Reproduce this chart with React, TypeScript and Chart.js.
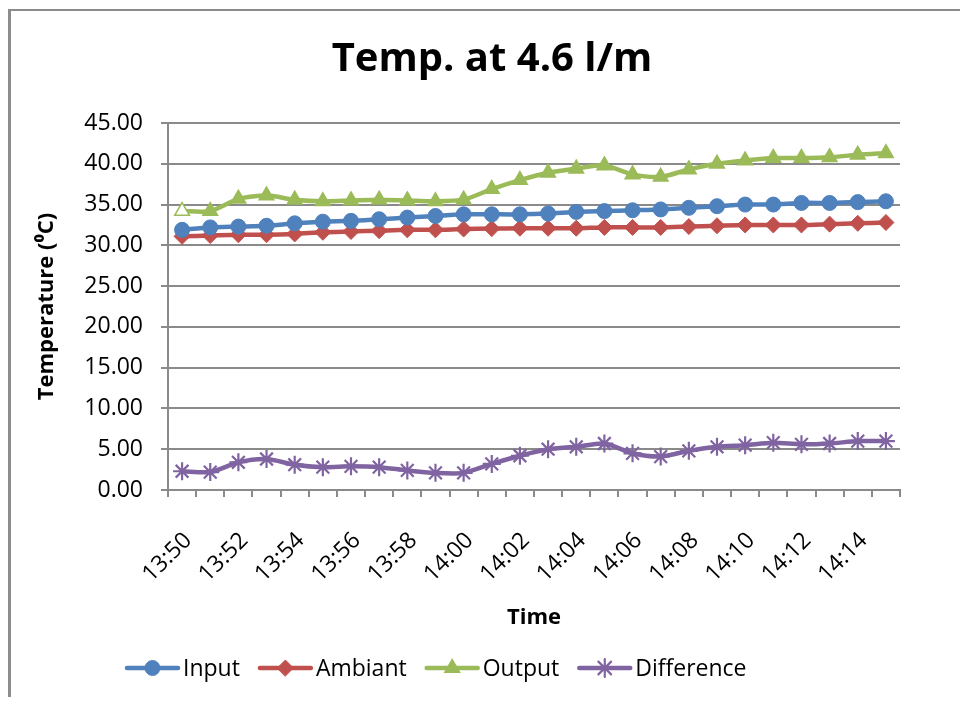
import React, { useEffect, useRef } from 'react';
import { Chart, registerables } from 'chart.js';
import { drawPoint } from 'chart.js/helpers';

Chart.register(...registerables);

const TITLE = 'Temp. at 4.6 l/m';
const Y_TITLE = 'Temperature (⁰C)';
const X_TITLE = 'Time';

const TIMES = [
  '13:50', '13:51', '13:52', '13:53', '13:54', '13:55', '13:56', '13:57', '13:58', '13:59',
  '14:00', '14:01', '14:02', '14:03', '14:04', '14:05', '14:06', '14:07', '14:08', '14:09',
  '14:10', '14:11', '14:12', '14:13', '14:14', '14:15',
];

const INPUT = [31.9, 32.2, 32.3, 32.4, 32.7, 32.9, 33.0, 33.2, 33.4, 33.6, 33.8, 33.8, 33.8, 33.9, 34.1, 34.2, 34.3, 34.4, 34.6, 34.8, 35.0, 35.0, 35.2, 35.2, 35.3, 35.4];
const AMBIANT = [31.1, 31.2, 31.3, 31.3, 31.4, 31.6, 31.7, 31.8, 31.9, 31.9, 32.0, 32.05, 32.1, 32.1, 32.1, 32.2, 32.2, 32.2, 32.3, 32.4, 32.5, 32.5, 32.5, 32.6, 32.7, 32.8];
const OUTPUT = [34.2, 34.2, 35.7, 36.1, 35.6, 35.4, 35.5, 35.6, 35.5, 35.4, 35.6, 36.9, 38.0, 38.9, 39.4, 39.8, 38.7, 38.4, 39.3, 40.0, 40.4, 40.7, 40.7, 40.8, 41.1, 41.3];
const DIFFERENCE = [2.3, 2.2, 3.4, 3.8, 3.1, 2.8, 2.9, 2.8, 2.4, 2.1, 2.1, 3.2, 4.2, 5.0, 5.3, 5.7, 4.5, 4.1, 4.8, 5.3, 5.5, 5.8, 5.6, 5.7, 6.0, 6.0];

const Y_MIN = 0;
const Y_MAX = 45;
const Y_STEP = 5;

const FONT = "'Open Sans', 'Liberation Sans', sans-serif";
const GRID = '#8a8a8a';

const decor = {
  id: 'decor',
  beforeDraw(chart: any) {
    const ctx = chart.ctx;
    ctx.save();
    ctx.fillStyle = '#ffffff';
    ctx.fillRect(0, 0, chart.width, chart.height);
    ctx.fillStyle = '#8c8c8c';
    ctx.fillRect(8, 9, chart.width - 8, 2);
    ctx.fillRect(8, 9, 3, 688);
    ctx.restore();
  },
  afterDraw(chart: any) {
    const ctx = chart.ctx;
    ctx.save();
    // title
    ctx.fillStyle = '#000';
    ctx.font = `bold 40px ${FONT}`;
    ctx.textAlign = 'center';
    ctx.textBaseline = 'middle';
    ctx.fillText(TITLE, 492, 60);
    // legend
    ctx.font = `23px ${FONT}`;
    ctx.textAlign = 'left';
    let x = 125;
    const y = 668;
    chart.data.datasets.forEach((ds: any) => {
      ctx.strokeStyle = ds.borderColor;
      ctx.lineWidth = 4.5;
      ctx.lineCap = 'round';
      ctx.beginPath();
      ctx.moveTo(x + 2, y);
      ctx.lineTo(x + 53, y);
      ctx.stroke();
      ctx.fillStyle = ds.borderColor;
      ctx.strokeStyle = ds.borderColor;
      ctx.lineWidth = ds.pointBorderWidth || 1;
      drawPoint(ctx, { pointStyle: ds.pointStyle, radius: ds.pointRadius, borderWidth: ds.pointBorderWidth || 1, rotation: 0 }, x + 27.5, y);
      ctx.fillStyle = '#000';
      ctx.fillText(ds.label, x + 58, y + 1);
      x += 58 + ctx.measureText(ds.label).width + 18;
    });
    ctx.restore();
  },
};

export default function App() {
  const ref = useRef<HTMLCanvasElement | null>(null);

  useEffect(() => {
    if (!ref.current) return;
    const outputFill = OUTPUT.map((_, i) => (i === 0 ? '#ffffff' : '#9BBB59'));
    const chart = new Chart(ref.current, {
      type: 'line',
      data: {
        labels: TIMES,
        datasets: [
          {
            label: 'Input',
            data: INPUT,
            borderColor: '#4F81BD',
            backgroundColor: '#4F81BD',
            pointBackgroundColor: '#4F81BD',
            pointStyle: 'circle',
            pointRadius: 7.5,
            pointBorderWidth: 1,
          },
          {
            label: 'Ambiant',
            data: AMBIANT,
            borderColor: '#C0504D',
            backgroundColor: '#C0504D',
            pointBackgroundColor: '#C0504D',
            pointStyle: 'rectRot',
            pointRadius: 8,
            pointBorderWidth: 1,
          },
          {
            label: 'Output',
            data: OUTPUT,
            borderColor: '#9BBB59',
            backgroundColor: '#9BBB59',
            pointBackgroundColor: outputFill,
            pointStyle: 'triangle',
            pointRadius: 8.5,
            pointBorderWidth: 1.5,
          },
          {
            label: 'Difference',
            data: DIFFERENCE,
            borderColor: '#8064A2',
            backgroundColor: '#8064A2',
            pointBackgroundColor: '#8064A2',
            pointStyle: 'star',
            pointRadius: 9,
            pointBorderWidth: 2.2,
          },
        ],
      },
      options: {
        responsive: false,
        animation: false,
        events: [],
        layout: { padding: { left: 0, right: 60, top: 123, bottom: 55 } },
        elements: {
          line: { borderWidth: 4.5, tension: 0.25 },
        },
        plugins: {
          legend: { display: false },
          title: { display: false },
          tooltip: { enabled: false },
        },
        scales: {
          x: {
            type: 'category',
            offset: true,
            afterFit: (s: any) => { s.height = 156; },
            grid: { display: true, offset: true, drawOnChartArea: false, drawTicks: true, tickLength: 7, color: GRID, lineWidth: 2 },
            border: { display: true, color: GRID, width: 2 },
            ticks: {
              autoSkip: false,
              minRotation: 45,
              maxRotation: 45,
              padding: 30,
              labelOffset: 6,
              color: '#000',
              font: { family: FONT, size: 23 },
              callback: (v: any, i: number) => (i % 2 === 0 ? TIMES[i] : ''),
            },
            title: {
              display: true,
              text: X_TITLE,
              color: '#000',
              font: { family: FONT, size: 22, weight: 'bold' },
              padding: { top: 0, bottom: 15 },
            },
          },
          y: {
            min: Y_MIN,
            max: Y_MAX,
            afterFit: (s: any) => { s.width = 168; },
            grid: { color: GRID, lineWidth: 2, tickLength: 7, drawTicks: true },
            border: { display: true, color: GRID, width: 2 },
            ticks: {
              stepSize: Y_STEP,
              padding: 18,
              color: '#000',
              font: { family: FONT, size: 23 },
              callback: (v: any) => Number(v).toFixed(2),
            },
            title: {
              display: true,
              text: Y_TITLE,
              color: '#000',
              font: { family: FONT, size: 22, weight: 'bold' },
              padding: { top: 34, bottom: 0 },
            },
          },
        },
      },
      plugins: [decor],
    });
    return () => chart.destroy();
  }, []);

  return (
    <div style={{ position: 'absolute', left: 0, top: 0, width: 960, height: 701 }}>
      <canvas ref={ref} width={960} height={701} style={{ display: 'block' }} />
    </div>
  );
}
